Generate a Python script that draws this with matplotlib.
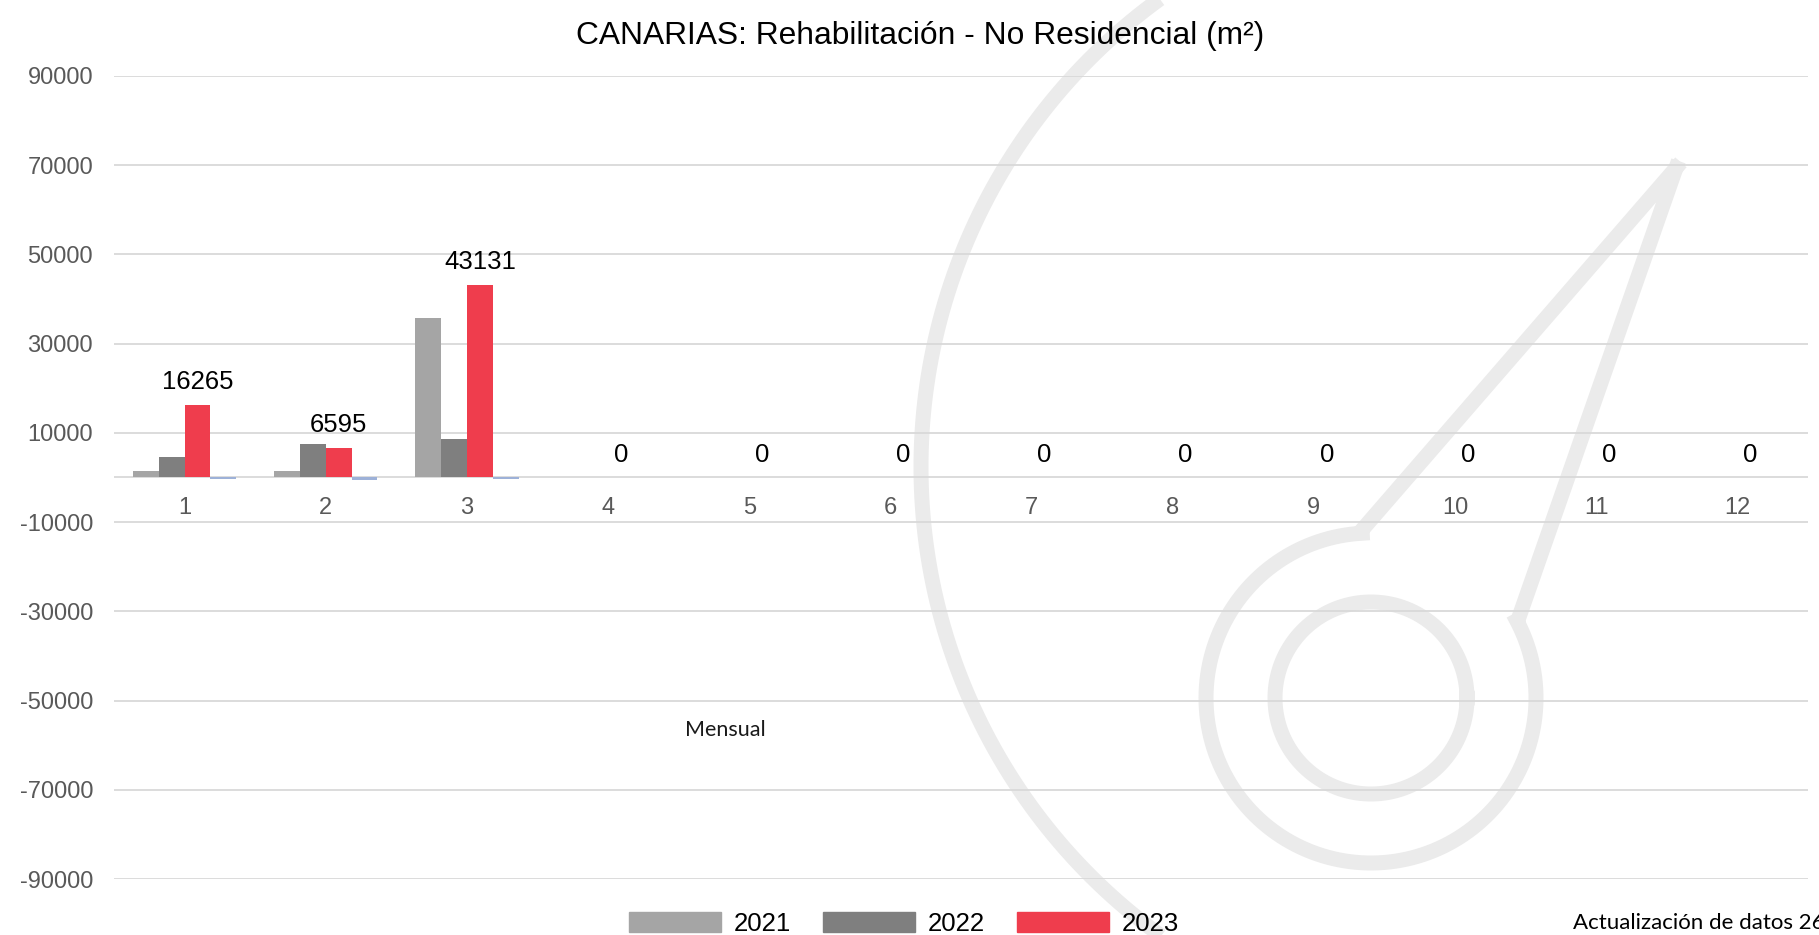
import numpy as np
import matplotlib
matplotlib.use("Agg")
import matplotlib.pyplot as plt
from matplotlib.patches import Patch

plt.rcParams["font.family"] = ["Liberation Sans", "DejaVu Sans"]

# data
months = list(range(1, 13))
month_labels = [str(m) for m in months]
years = ["2021", "2022", "2023"]
v2021 = [1500, 1500, 35800, 0, 0, 0, 0, 0, 0, 0, 0, 0]
v2022 = [4650, 7560, 8690, 0, 0, 0, 0, 0, 0, 0, 0, 0]
v2023 = [16265, 6595, 43131, 0, 0, 0, 0, 0, 0, 0, 0, 0]
v_extra = [-350, -450, -300, 0, 0, 0, 0, 0, 0, 0, 0, 0]  # unlabeled 4th series
yticks = list(range(-90000, 90001, 20000))

colors = ["#A5A5A5", "#7F7F7F", "#EF3D4D"]
extra_color = "#9DB1D8"
grid_color = "#D9D9D9"
tick_color = "#595959"
wm_color = "#EBEBEB"

W, H = 1819, 935
fig = plt.figure(figsize=(W / 100, H / 100), dpi=100)

# faint logo watermark behind the chart (pixel coordinates)
wm = fig.add_axes([0, 0, 1, 1], zorder=0)
wm.set_xlim(0, W)
wm.set_ylim(H, 0)
wm.axis("off")
wm_lw = 10.8
t = np.radians(np.linspace(110, 250, 300))
wm.plot(1499 + 578 * np.cos(t), 467 + 578 * np.sin(t), color=wm_color, lw=wm_lw, solid_capstyle="butt")
cx, cy, r_out, r_in = 1371, 698, 165, 96
tip = (1676, 168)
p1 = (1362, 530)
p2 = (1518, 620)
a1 = np.degrees(np.arctan2(p1[1] - cy, p1[0] - cx))
a2 = np.degrees(np.arctan2(p2[1] - cy, p2[0] - cx)) - 360
t = np.radians(np.linspace(a1, a2, 300))
xs = np.concatenate([[tip[0], p1[0]], cx + r_out * np.cos(t), [p2[0], tip[0]]])
ys = np.concatenate([[tip[1], p1[1]], cy + r_out * np.sin(t), [p2[1], tip[1]]])
wm.plot(xs, ys, color=wm_color, lw=wm_lw, solid_joinstyle="miter")
t = np.linspace(0, 2 * np.pi, 300)
wm.plot(cx + r_in * np.cos(t), cy + r_in * np.sin(t), color=wm_color, lw=wm_lw)

# main chart
ax = fig.add_axes([114 / W, 1 - 879 / H, 1694 / W, 803 / H], zorder=1)
ax.set_facecolor("none")

x = np.array(months)
w = 0.183
series = [v2021, v2022, v2023, v_extra]
cols = colors + [extra_color]
for i, (vals, c) in enumerate(zip(series, cols)):
    ax.bar(x + (i - 1.5) * w, vals, width=w, color=c, zorder=3)

for xi, v in zip(x + 0.5 * w, v2023):
    ax.annotate(f"{v}", (xi, v), xytext=(0, 16.5), textcoords="offset points",
                ha="center", va="center", fontsize=18.5, color="black", zorder=4)

ax.set_xlim(0.5, 12.5)
ax.set_ylim(-90000, 90000)
ax.set_yticks(yticks)
ax.set_yticklabels([str(v) for v in yticks])
ax.set_xticks([])
ax.tick_params(axis="y", length=0, pad=15, labelsize=17, labelcolor=tick_color)
# category labels sit just below the zero line
for m, lab in zip(months, month_labels):
    ax.annotate(lab, (m, 0), xytext=(0, -22), textcoords="offset points",
                ha="center", va="center", fontsize=17, color=tick_color)

ax.grid(axis="y", color=grid_color, lw=1.3, zorder=0)
ax.axhline(0, color=grid_color, lw=1.3, zorder=2)
for s in ax.spines.values():
    s.set_visible(False)

fig.text(920 / W, 1 - 44 / H, "CANARIAS: Rehabilitación - No Residencial (m²)",
         ha="center", va="baseline", fontsize=22.9, color="black")
fig.text(725 / W, 1 - 730 / H, "Mensual", ha="center", va="center",
         fontsize=15.5, family=["Lato", "DejaVu Sans"], color="#1a1a1a")
fig.text(1573 / W, 1 - 913 / H, "Actualización de datos 26", ha="left", va="top",
         fontsize=16, family=["Lato", "DejaVu Sans"], color="black")

handles = [Patch(color=c) for c in colors]
fig.legend(handles, years, loc="upper left", bbox_to_anchor=(629 / W, 1 - 912 / H),
           ncol=3, frameon=False, fontsize=18.5, handlelength=3.58, handleheight=0.78,
           handletextpad=0.5, columnspacing=1.25, borderpad=0, borderaxespad=0)

fig.savefig("out.png", dpi=100)
